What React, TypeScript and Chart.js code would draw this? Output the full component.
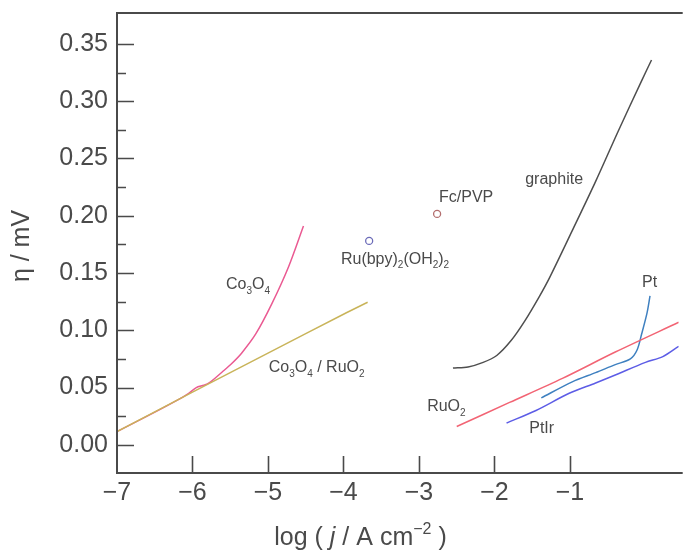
import React, { useEffect, useRef } from 'react';
import { Chart, registerables } from 'chart.js';

Chart.register(...registerables);

// ---- Data (log j, eta) ----
const xTickValues = [-7, -6, -5, -4, -3, -2, -1];
const yTickValues = [0, 0.05, 0.1, 0.15, 0.2, 0.25, 0.3, 0.35];
const yMinorTickValues = [0.025, 0.075, 0.125, 0.175, 0.225, 0.275, 0.325];

const co3o4RuO2X = [-7, -6, -5, -4, -3.68];
const co3o4RuO2Y = [0.0116, 0.046, 0.08, 0.114, 0.1245];

const co3o4X = [-7, -6.6, -6.2, -6.05, -5.95, -5.85, -5.78, -5.6, -5.48, -5.35, -5.16, -4.95, -4.73, -4.53];
const co3o4Y = [0.0116, 0.025, 0.039, 0.045, 0.05, 0.052, 0.054, 0.064, 0.071, 0.08, 0.097, 0.123, 0.155, 0.191];

const graphiteX = [-2.55, -2.35, -2.15, -1.97, -1.78, -1.6, -1.41, -1.27, -0.97, -0.66, -0.36, -0.05, 0.08];
const graphiteY = [0.067, 0.068, 0.072, 0.078, 0.091, 0.108, 0.129, 0.146, 0.187, 0.23, 0.274, 0.318, 0.336];

const ruo2X = [-2.5, -1.8, -1.1, -0.4, 0.44];
const ruo2Y = [0.016, 0.037, 0.058, 0.081, 0.107];

const ptX = [-1.38, -0.97, -0.66, -0.4, -0.2, -0.11, -0.05, 0.02, 0.06];
const ptY = [0.041, 0.055, 0.063, 0.07, 0.075, 0.083, 0.097, 0.115, 0.13];

const ptirX = [-1.84, -1.45, -1.01, -0.66, -0.4, 0.0, 0.23, 0.44];
const ptirY = [0.019, 0.03, 0.045, 0.054, 0.061, 0.072, 0.077, 0.086];

const rubpyPoint = [-3.66, 0.178];
const fcpvpPoint = [-2.76, 0.2016];

// ---- Styling ----
const FONT = '"Liberation Sans", Arial, Helvetica, sans-serif';
const AXIS_COLOR = '#4a4a4a';
const TEXT_COLOR = '#4a4a4a';

type Part = { t: string; sub?: boolean; sup?: boolean; italic?: boolean };

const labels: { parts: Part[]; x: number; y: number }[] = [
  { parts: [{ t: 'Co' }, { t: '3', sub: true }, { t: 'O' }, { t: '4', sub: true }], x: -5.556, y: 0.1357 },
  {
    parts: [{ t: 'Co' }, { t: '3', sub: true }, { t: 'O' }, { t: '4', sub: true }, { t: ' / RuO' }, { t: '2', sub: true }],
    x: -4.99,
    y: 0.0635,
  },
  {
    parts: [{ t: 'Ru(bpy)' }, { t: '2', sub: true }, { t: '(OH' }, { t: '2', sub: true }, { t: ')' }, { t: '2', sub: true }],
    x: -4.034,
    y: 0.1583,
  },
  { parts: [{ t: 'Fc/PVP' }], x: -2.735, y: 0.2118 },
  { parts: [{ t: 'graphite' }], x: -1.593, y: 0.228 },
  { parts: [{ t: 'Pt' }], x: -0.045, y: 0.1379 },
  { parts: [{ t: 'RuO' }, { t: '2', sub: true }], x: -2.892, y: 0.0291 },
  { parts: [{ t: 'PtIr' }], x: -1.54, y: 0.0104 },
];

const zip = (xs: number[], ys: number[]) => xs.map((x, i) => ({ x, y: ys[i] }));

function drawRich(ctx: CanvasRenderingContext2D, parts: Part[], x: number, y: number, size: number, align: 'left' | 'center') {
  const small = Math.round(size * 0.62);
  const fontFor = (p: Part) => `${p.italic ? 'italic ' : ''}${p.sub || p.sup ? small : size}px ${FONT}`;
  let total = 0;
  for (const p of parts) {
    ctx.font = fontFor(p);
    total += ctx.measureText(p.t).width;
  }
  let cx = align === 'center' ? x - total / 2 : x;
  ctx.textAlign = 'left';
  ctx.textBaseline = 'alphabetic';
  for (const p of parts) {
    ctx.font = fontFor(p);
    const dy = p.sub ? size * 0.3 : p.sup ? -size * 0.45 : 0;
    ctx.fillText(p.t, cx, y + dy);
    cx += ctx.measureText(p.t).width;
  }
}

const framePlugin = {
  id: 'framePlugin',
  afterDraw(chart: any) {
    const { ctx, chartArea: a } = chart;
    const xs = chart.scales.x;
    const ys = chart.scales.y;
    ctx.save();
    ctx.strokeStyle = AXIS_COLOR;
    ctx.lineWidth = 2;
    ctx.beginPath();
    ctx.moveTo(a.right + 4, a.top);
    ctx.lineTo(a.left, a.top);
    ctx.lineTo(a.left, a.bottom);
    ctx.lineTo(a.right + 4, a.bottom);
    ctx.stroke();

    ctx.lineWidth = 1.6;
    ctx.beginPath();
    for (const v of yTickValues) {
      const py = Math.round(ys.getPixelForValue(v)) + 0.5;
      ctx.moveTo(a.left, py);
      ctx.lineTo(a.left + 17, py);
    }
    for (const v of yMinorTickValues) {
      const py = Math.round(ys.getPixelForValue(v)) + 0.5;
      ctx.moveTo(a.left, py);
      ctx.lineTo(a.left + 9, py);
    }
    for (const v of xTickValues) {
      if (v === -7) continue;
      const px = Math.round(xs.getPixelForValue(v)) + 0.5;
      ctx.moveTo(px, a.bottom);
      ctx.lineTo(px, a.bottom - 17);
    }
    ctx.stroke();

    // axis titles
    ctx.fillStyle = TEXT_COLOR;
    drawRich(
      ctx,
      [{ t: 'log ( ' }, { t: 'j', italic: true }, { t: ' / A cm' }, { t: '−2', sup: true }, { t: ' )' }],
      (a.left + 574) / 2 + 15,
      545,
      25,
      'center'
    );
    ctx.save();
    ctx.translate(29, 246);
    ctx.rotate(-Math.PI / 2);
    drawRich(ctx, [{ t: 'η / mV' }], 0, 0, 25, 'center');
    ctx.restore();

    // annotations
    for (const l of labels) {
      drawRich(ctx, l.parts, xs.getPixelForValue(l.x), ys.getPixelForValue(l.y), 16, 'left');
    }
    ctx.restore();
  },
};

export default function App() {
  const canvasRef = useRef<HTMLCanvasElement | null>(null);

  useEffect(() => {
    if (!canvasRef.current) return;
    const lineDs = (label: string, xs: number[], ys: number[], color: string, width = 1.5) => ({
      label,
      data: zip(xs, ys),
      showLine: true,
      borderColor: color,
      backgroundColor: color,
      borderWidth: width,
      pointRadius: 0,
      tension: 0.3,
    });
    const chart = new Chart(canvasRef.current, {
      type: 'scatter',
      data: {
        datasets: [
          lineDs('Co3O4 / RuO2', co3o4RuO2X, co3o4RuO2Y, '#c9b45a'),
          lineDs('Co3O4', co3o4X, co3o4Y, '#ea5a92'),
          lineDs('graphite', graphiteX, graphiteY, '#4f4f4f'),
          lineDs('RuO2', ruo2X, ruo2Y, '#f26474'),
          lineDs('Pt', ptX, ptY, '#3f80c0'),
          lineDs('PtIr', ptirX, ptirY, '#5d5de6'),
          {
            label: 'Ru(bpy)2(OH2)2',
            data: [{ x: rubpyPoint[0], y: rubpyPoint[1] }],
            pointRadius: 3.5,
            pointBorderWidth: 1.3,
            borderColor: '#6b6bb8',
            backgroundColor: 'rgba(0,0,0,0)',
            showLine: false,
          },
          {
            label: 'Fc/PVP',
            data: [{ x: fcpvpPoint[0], y: fcpvpPoint[1] }],
            pointRadius: 3.5,
            pointBorderWidth: 1.3,
            borderColor: '#b36e6e',
            backgroundColor: 'rgba(0,0,0,0)',
            showLine: false,
          },
        ],
      },
      options: {
        responsive: false,
        animation: false,
        devicePixelRatio: 1,
        layout: { padding: { top: 13, left: 0, right: 0, bottom: 0 } },
        plugins: { legend: { display: false }, tooltip: { enabled: false } },
        scales: {
          x: {
            type: 'linear',
            min: -7,
            max: 0.44,
            grid: { display: false, drawTicks: false },
            border: { display: false },
            afterBuildTicks: (s: any) => {
              s.ticks = xTickValues.map((v) => ({ value: v }));
            },
            afterFit: (s: any) => {
              s.height = 77;
              s.paddingLeft = 0;
              s.paddingRight = 0;
            },
            ticks: {
              padding: 5,
              color: TEXT_COLOR,
              font: { family: FONT, size: 25 },
              maxRotation: 0,
              callback: (v: any) => (Number(v) < 0 ? '−' + Math.abs(Number(v)) : String(v)),
            },
          },
          y: {
            type: 'linear',
            min: -0.0246,
            max: 0.377,
            grid: { display: false, drawTicks: false },
            border: { display: false },
            afterBuildTicks: (s: any) => {
              s.ticks = yTickValues.map((v) => ({ value: v }));
            },
            afterFit: (s: any) => {
              s.width = 117;
              s.paddingTop = 0;
              s.paddingBottom = 0;
            },
            ticks: {
              padding: 9,
              color: TEXT_COLOR,
              font: { family: FONT, size: 25 },
              callback: (v: any) => Number(v).toFixed(2),
            },
          },
        },
      },
      plugins: [framePlugin],
    });
    return () => chart.destroy();
  }, []);

  return (
    <div style={{ position: 'absolute', left: 0, top: 0, width: 684, height: 550, background: '#fff' }}>
      <canvas ref={canvasRef} width={684} height={550} style={{ display: 'block' }} />
    </div>
  );
}
